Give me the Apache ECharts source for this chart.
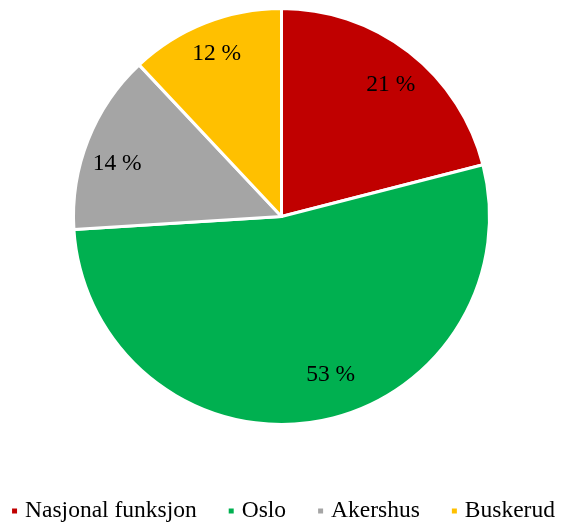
<!DOCTYPE html>
<html>
<head>
    <meta charset="UTF-8">
    <title>Pie</title>
    <script src="https://cdn.jsdelivr.net/npm/echarts@6/dist/echarts.min.js"></script>
    <style>
        html, body { margin: 0; height: 100%; background: #fff; }
        #main { width: 565px; height: 525px; }
    </style>
</head>
<body>
    <div id="main"></div>
    <script>
        // data
        var categories = ['Nasjonal funksjon', 'Oslo', 'Akershus', 'Buskerud'];
        var shares = [21, 53, 14, 12];
        var colors = ['#C00000', '#00B050', '#A5A5A5', '#FFC000'];

        var font = '"Liberation Serif", "Times New Roman", serif';
        var center = [281.5, 216.5];
        var R = 208;

        // small nudges so labels land where the original put them
        var labelNudge = {
            'Nasjonal funksjon': [3, 5],
            'Oslo': [22, -13],
            'Akershus': [-3, 11],
            'Buskerud': [-1, -1]
        };

        var pieData = categories.map(function (name, i) {
            return { name: name, value: shares[i], itemStyle: { color: colors[i] } };
        });

        // labels sit further out than the slice middle, so a transparent ring carries them
        var labelData = categories.map(function (name, i) {
            return { name: name, value: shares[i], label: { offset: labelNudge[name] } };
        });

        var option = {
            animation: false,
            color: colors,
            textStyle: { fontFamily: font },
            legend: {
                bottom: -3,
                left: 'center',
                icon: 'rect',
                itemWidth: 7,
                itemHeight: 7,
                itemGap: 30,
                textStyle: {
                    fontFamily: font,
                    fontSize: 23.5,
                    color: '#000',
                    padding: [0, 0, 0, 2]
                },
                data: categories
            },
            series: [
                {
                    type: 'pie',
                    center: center,
                    radius: [0, R],
                    startAngle: 90,
                    clockwise: true,
                    label: { show: false },
                    labelLine: { show: false },
                    itemStyle: { borderColor: '#fff', borderWidth: 3 },
                    emphasis: { disabled: true },
                    data: pieData
                },
                {
                    type: 'pie',
                    silent: true,
                    center: center,
                    radius: [133, R],
                    startAngle: 90,
                    clockwise: true,
                    legendHoverLink: false,
                    itemStyle: { color: 'rgba(0,0,0,0)', borderWidth: 0 },
                    label: {
                        show: true,
                        position: 'inside',
                        formatter: '{c} %',
                        fontFamily: font,
                        fontSize: 23.5,
                        color: '#000'
                    },
                    labelLine: { show: false },
                    data: labelData
                }
            ]
        };

        var myChart = echarts.init(document.getElementById('main'));
        myChart.setOption(option);
    </script>
</body>
</html>
